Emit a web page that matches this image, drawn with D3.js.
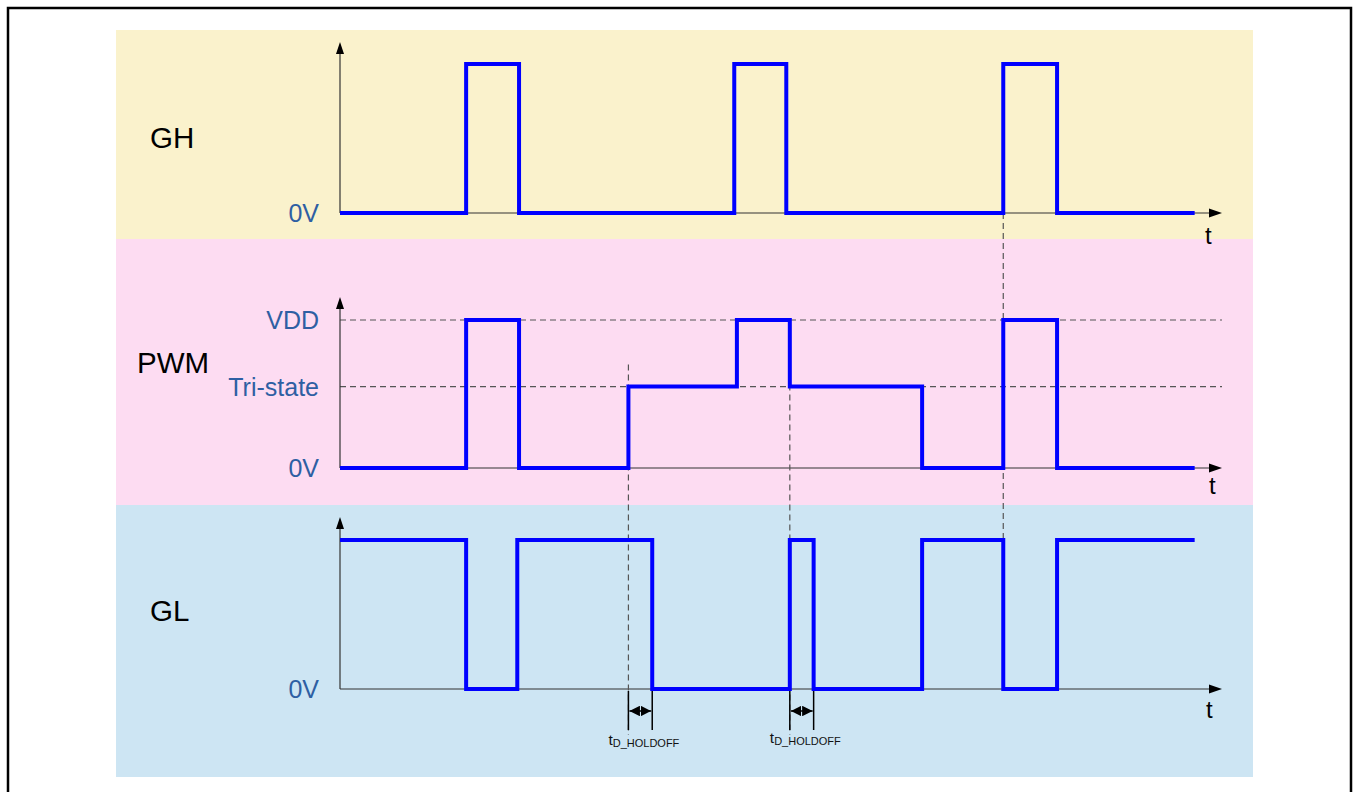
<!DOCTYPE html>
<html lang="en">
<head>
    <meta charset="UTF-8">
    <title>GH / PWM / GL timing</title>
    <script src="https://d3js.org/d3.v7.min.js"></script>
    <style>
        body { margin: 0; background: white; }
        svg { display: block; font-family: "Liberation Sans", Arial, sans-serif; }
        .wave { fill: none; stroke: #0000ff; stroke-width: 4; stroke-linejoin: miter; }
        .axis { stroke: #333; stroke-width: 1.2; }
        .dash { stroke: #555; stroke-width: 1.2; stroke-dasharray: 6,4; }
        .lvl { fill: #2e5fa3; font-size: 25px; text-anchor: end; }
        .name { fill: #000; font-size: 29.5px; }
    </style>
</head>
<body>
<svg></svg>
<script>
    // time in arbitrary units (0..100 across the t axis)
    const ghTimes  = [0, 14.3, 20.3, 44.7, 50.6, 75.2, 81.3, 96.9];
    const ghLevels = [0, 1, 0, 1, 0, 1, 0, 0];

    const pwmTimes  = [0, 14.3, 20.3, 32.7, 45.0, 51.0, 66.0, 75.2, 81.3, 96.9];
    const pwmLevels = [0, 1, 0, 0.55, 1, 0.55, 0, 1, 0, 0];

    const glTimes  = [0, 14.3, 20.1, 35.4, 51.0, 53.7, 66.0, 75.2, 81.3, 96.9];
    const glLevels = [1, 0, 1, 0, 1, 0, 1, 0, 1, 1];

    const pwmTickValues = [0, 0.55, 1];
    const pwmTickLabels = ["0V", "Tri-state", "VDD"];

    // dashed vertical markers and hold-off intervals
    const markerTimes = [32.7, 51.0, 75.2];
    const holdoff = [[32.7, 35.4], [51.0, 53.7]];

    const width = 1353, height = 792;
    const svg = d3.select("svg").attr("width", width).attr("height", height);

    // frame
    svg.append("rect").attr("x", 8).attr("y", 8).attr("width", 1343).attr("height", 800)
        .attr("fill", "none").attr("stroke", "#000").attr("stroke-width", 2.5);

    const x = d3.scaleLinear().domain([0, 100]).range([340, 1222]);

    const panels = [
        { name: "GH", top: 30, bottom: 239, bg: "#faf2cc", y: d3.scaleLinear().domain([0, 1]).range([213, 64]),
          times: ghTimes, levels: ghLevels, axisTop: 42, nameX: 150, nameY: 148, tX: 1205, tY: 244 },
        { name: "PWM", top: 239, bottom: 505, bg: "#fddcf2", y: d3.scaleLinear().domain([0, 1]).range([468, 320]),
          times: pwmTimes, levels: pwmLevels, axisTop: 297, nameX: 137, nameY: 373, tX: 1209, tY: 494 },
        { name: "GL", top: 505, bottom: 777, bg: "#cde5f3", y: d3.scaleLinear().domain([0, 1]).range([689, 540]),
          times: glTimes, levels: glLevels, axisTop: 517, nameX: 150, nameY: 621, tX: 1206, tY: 718 }
    ];

    const line = d3.line().x(d => x(d[0])).y(d => d[1]).curve(d3.curveStepAfter);

    panels.forEach(p => {
        svg.append("rect").attr("x", 116).attr("y", p.top).attr("width", 1137).attr("height", p.bottom - p.top)
            .attr("fill", p.bg);
    });

    panels.forEach(p => {
        const g = svg.append("g");
        const y0 = p.y(0);

        if (p.name === "PWM") {
            [1, 0.55].forEach(v => {
                g.append("line").attr("class", "dash")
                    .attr("x1", x(0)).attr("x2", x(100)).attr("y1", p.y(v)).attr("y2", p.y(v));
            });
            pwmTickValues.forEach((v, i) => {
                g.append("text").attr("class", "lvl").attr("x", 319).attr("y", p.y(v) + 9).text(pwmTickLabels[i]);
            });
        } else {
            g.append("text").attr("class", "lvl").attr("x", 319).attr("y", y0 + 9).text("0V");
        }

        // axes with arrowheads
        g.append("line").attr("class", "axis").attr("x1", x(0)).attr("x2", x(0)).attr("y1", y0).attr("y2", p.axisTop + 10);
        g.append("path").attr("fill", "#000")
            .attr("d", `M${x(0)},${p.axisTop} l-4,12 l8,0 z`);
        g.append("line").attr("class", "axis").attr("x1", x(0)).attr("x2", x(100) - 10).attr("y1", y0).attr("y2", y0);
        g.append("path").attr("fill", "#000")
            .attr("d", `M${x(100)},${y0} l-13,-4.5 l0,9 z`);

        g.append("text").attr("x", p.tX).attr("y", p.tY).attr("font-size", 24).text("t");
        g.append("text").attr("class", "name").attr("x", p.nameX).attr("y", p.nameY).text(p.name);
    });

    // dashed vertical markers
    const [gh, pwm, gl] = panels;
    const markerSpans = [[pwm.y(0.55) - 22, 735], [pwm.y(0.55) - 22, 735], [gh.y(0), gl.y(1)]];
    markerTimes.forEach((t, i) => {
        svg.append("line").attr("class", "dash")
            .attr("x1", x(t)).attr("x2", x(t)).attr("y1", markerSpans[i][0]).attr("y2", markerSpans[i][1]);
    });

    // waveforms
    panels.forEach(p => {
        const pts = p.times.map((t, i) => [t, p.y(p.levels[i])]);
        svg.append("path").attr("class", "wave").attr("d", line(pts));
    });

    // hold-off annotations
    const defs = svg.append("defs");
    defs.append("marker").attr("id", "ah").attr("viewBox", "0 0 10 10").attr("refX", 10).attr("refY", 5)
        .attr("markerWidth", 7).attr("markerHeight", 7).attr("orient", "auto-start-reverse")
        .append("path").attr("d", "M0,0 L10,5 L0,10 z").attr("fill", "#000");

    holdoff.forEach(([a, b], i) => {
        const g = svg.append("g");
        [a, b].forEach(t => g.append("line").attr("stroke", "#000").attr("stroke-width", 1.5)
            .attr("x1", x(t)).attr("x2", x(t)).attr("y1", 691).attr("y2", 730));
        g.append("line").attr("stroke", "#000").attr("stroke-width", 1.5)
            .attr("x1", x(a) + 1).attr("x2", x(b) - 1).attr("y1", 711).attr("y2", 711)
            .attr("marker-start", "url(#ah)").attr("marker-end", "url(#ah)");
        const txt = g.append("text").attr("x", x(a) - 20).attr("y", i === 0 ? 745 : 743).attr("fill", "#111");
        txt.append("tspan").attr("font-size", 15.5).text("t");
        txt.append("tspan").attr("font-size", 11).attr("dy", 2).text("D_HOLDOFF");
    });
</script>
</body>
</html>
